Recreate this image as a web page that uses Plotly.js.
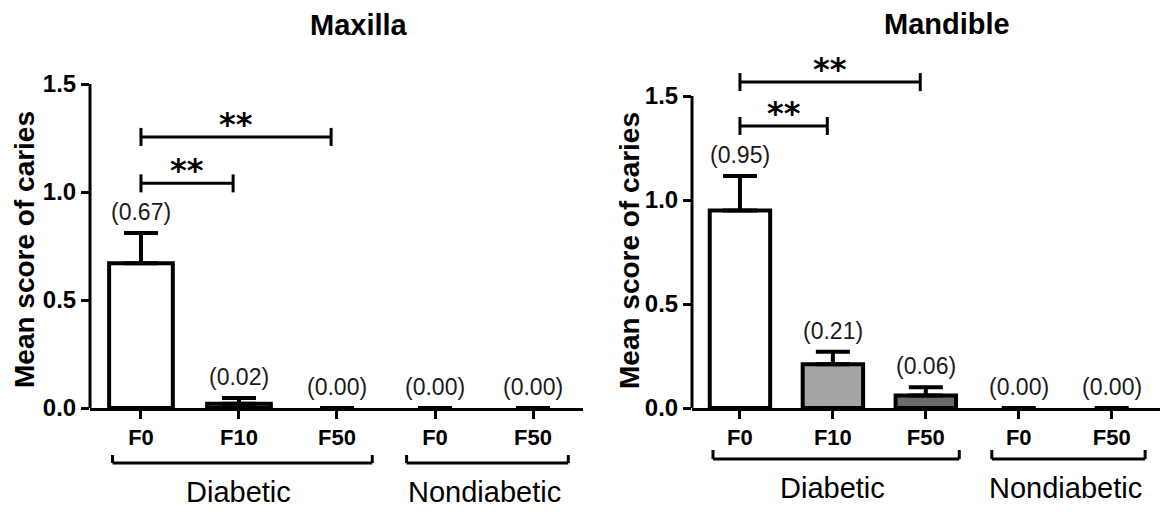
<!DOCTYPE html>
<html><head><meta charset="utf-8">
<script src="https://cdn.plot.ly/plotly-3.0.1.min.js"></script>
<style>html,body{margin:0;padding:0;background:#fff}</style>
</head><body><div id="chart" style="width:1163px;height:512px"></div>
<script>
// ---- data ----
const categories = [0, 1, 2, 3, 4];
const tickLabels = ['F0', 'F10', 'F50', 'F0', 'F50'];
const groupNames = ['Diabetic', 'Nondiabetic'];
const groupFirst = [0, 3];
const groupLast = [2, 4];
const barColors = ['#ffffff', '#a5a5a8', '#6a6a6a', '#ffffff', '#ffffff'];
const yTickVals = [0, 0.5, 1.0, 1.5];

const maxillaMeans = [0.67, 0.02, 0.00, 0.00, 0.00];
const maxillaErrors = [0.14, 0.026, 0, 0, 0];
const maxillaSigFrom = [0, 0];
const maxillaSigTo = [1, 2];
const maxillaSigY = [1.04, 1.255];
const maxillaSigText = ['**', '**'];

const mandibleMeans = [0.95, 0.21, 0.06, 0.00, 0.00];
const mandibleErrors = [0.165, 0.06, 0.04, 0, 0];
const mandibleSigFrom = [0, 0];
const mandibleSigTo = [1, 2];
const mandibleSigY = [1.356, 1.567];
const mandibleSigText = ['**', '**'];

// ---- layout helpers ----
const W = 1163, H = 512;
const px = v => v / W;
const py = v => 1 - v / H;
const FONT = 'Arial, "Liberation Sans", sans-serif';

const panels = [
  {title: 'Maxilla', means: maxillaMeans, errs: maxillaErrors,
   sf: maxillaSigFrom, st: maxillaSigTo, sy: maxillaSigY, stext: maxillaSigText,
   xa: 'x', ya: 'y', xdom: [90, 583], xr: [-0.52, 4.51], ytop: 408 / 216,
   titleX: 359, titleY: 25, ytX: 24, ytY: 250, grpY: 463, grpTick: 455, grpTextY: 492},
  {title: 'Mandible', means: mandibleMeans, errs: mandibleErrors,
   sf: mandibleSigFrom, st: mandibleSigTo, sy: mandibleSigY, stext: mandibleSigText,
   xa: 'x2', ya: 'y2', xdom: [692, 1160], xr: [-0.516, 4.52], ytop: 408 / 208,
   titleX: 947, titleY: 24, ytX: 629, ytY: 250, grpY: 459, grpTick: 450, grpTextY: 488}
];

const traces = [];
const shapes = [];
const annotations = [];
const layout = {
  width: W, height: H, margin: {l: 0, r: 0, t: 0, b: 0},
  paper_bgcolor: '#fff', plot_bgcolor: '#fff', showlegend: false,
  font: {family: FONT, color: '#000'}
};

panels.forEach((p, k) => {
  const xKey = k === 0 ? 'xaxis' : 'xaxis2';
  const yKey = k === 0 ? 'yaxis' : 'yaxis2';
  layout[xKey] = {
    domain: [px(p.xdom[0]), px(p.xdom[1])], range: p.xr, anchor: p.ya,
    showline: true, linewidth: 3, linecolor: '#000', showgrid: false, zeroline: false,
    ticks: 'outside', ticklen: 8, tickwidth: 3, tickcolor: '#000',
    tickvals: categories, ticktext: tickLabels,
    tickfont: {family: FONT, size: 22, weight: 'bold', color: '#000'}
  };
  layout[yKey] = {
    domain: [1 - 408 / H, 1], range: [0, p.ytop], anchor: p.xa,
    showline: false, showgrid: false, zeroline: false,
    ticks: 'outside', ticklen: 8, tickwidth: 3, tickcolor: '#000',
    tickvals: yTickVals, tickformat: '.1f',
    tickfont: {family: FONT, size: 24, weight: 'bold', color: '#000'}
  };

  traces.push({
    type: 'bar', x: categories, y: p.means, xaxis: p.xa, yaxis: p.ya, width: 0.65,
    marker: {color: barColors, line: {color: '#000', width: p.means.map(m => m > 0 ? 4 : 0)}},
    error_y: {type: 'data', symmetric: false,
              array: p.errs.map(e => e > 0 ? e : NaN), arrayminus: p.errs.map(() => 0),
              thickness: 4, width: 17, color: '#000'},
    hoverinfo: 'skip', cliponaxis: false
  });

  // y axis line (from 0 to 1.5)
  shapes.push({type: 'line', xref: p.xa + ' domain', yref: p.ya, x0: 0, x1: 0,
               y0: 0, y1: yTickVals[yTickVals.length - 1], line: {color: '#000', width: 3}});

  // value labels
  categories.forEach((c, i) => {
    annotations.push({xref: p.xa, yref: p.ya, x: c, y: p.means[i] + p.errs[i],
      text: '(' + p.means[i].toFixed(2) + ')', showarrow: false, yanchor: 'middle', yshift: 21,
      font: {family: FONT, size: 23, color: '#1a1a1a'}});
  });

  // significance brackets
  p.sf.forEach((f, j) => {
    const x0 = categories[f], x1 = categories[p.st[j]] - 0.06, yv = p.sy[j];
    const ln = {color: '#000', width: 3};
    shapes.push({type: 'line', xref: p.xa, yref: p.ya, x0: x0, x1: x1, y0: yv, y1: yv, line: ln});
    shapes.push({type: 'line', xref: p.xa, yref: p.ya, ysizemode: 'pixel', yanchor: yv,
                 x0: x0, x1: x0, y0: -9, y1: 9, line: ln});
    shapes.push({type: 'line', xref: p.xa, yref: p.ya, ysizemode: 'pixel', yanchor: yv,
                 x0: x1, x1: x1, y0: -9, y1: 9, line: ln});
    annotations.push({xref: p.xa, yref: p.ya, x: (x0 + x1) / 2, y: yv, yshift: 13,
      text: p.stext[j], showarrow: false, yanchor: 'middle',
      font: {family: '"DejaVu Sans", sans-serif', size: 32, weight: 'bold', color: '#000'}});
  });

  // group brackets
  groupNames.forEach((g, i) => {
    const a = groupFirst[i] - 0.29, b = groupLast[i] + 0.36;
    const ln = {color: '#000', width: 3};
    shapes.push({type: 'line', xref: p.xa, yref: 'paper', x0: a, x1: b, y0: py(p.grpY), y1: py(p.grpY), line: ln});
    shapes.push({type: 'line', xref: p.xa, yref: 'paper', x0: a, x1: a, y0: py(p.grpY), y1: py(p.grpTick), line: ln});
    shapes.push({type: 'line', xref: p.xa, yref: 'paper', x0: b, x1: b, y0: py(p.grpY), y1: py(p.grpTick), line: ln});
    annotations.push({xref: p.xa, yref: 'paper', x: (groupFirst[i] + groupLast[i]) / 2, y: py(p.grpTextY),
      text: g, showarrow: false, yanchor: 'middle',
      font: {family: FONT, size: 29, color: '#000'}});
  });

  // panel title
  annotations.push({xref: 'paper', yref: 'paper', x: px(p.titleX), y: py(p.titleY),
    text: p.title, showarrow: false, xanchor: 'center', yanchor: 'middle',
    font: {family: FONT, size: 29, weight: 'bold', color: '#000'}});
  // y axis title
  annotations.push({xref: 'paper', yref: 'paper', x: px(p.ytX), y: py(p.ytY),
    text: 'Mean score of caries', textangle: -90, showarrow: false,
    xanchor: 'center', yanchor: 'middle',
    font: {family: FONT, size: 28, weight: 'bold', color: '#000'}});
});

layout.shapes = shapes;
layout.annotations = annotations;

Plotly.newPlot('chart', traces, layout, {staticPlot: true, displayModeBar: false});
</script>
</body></html>
